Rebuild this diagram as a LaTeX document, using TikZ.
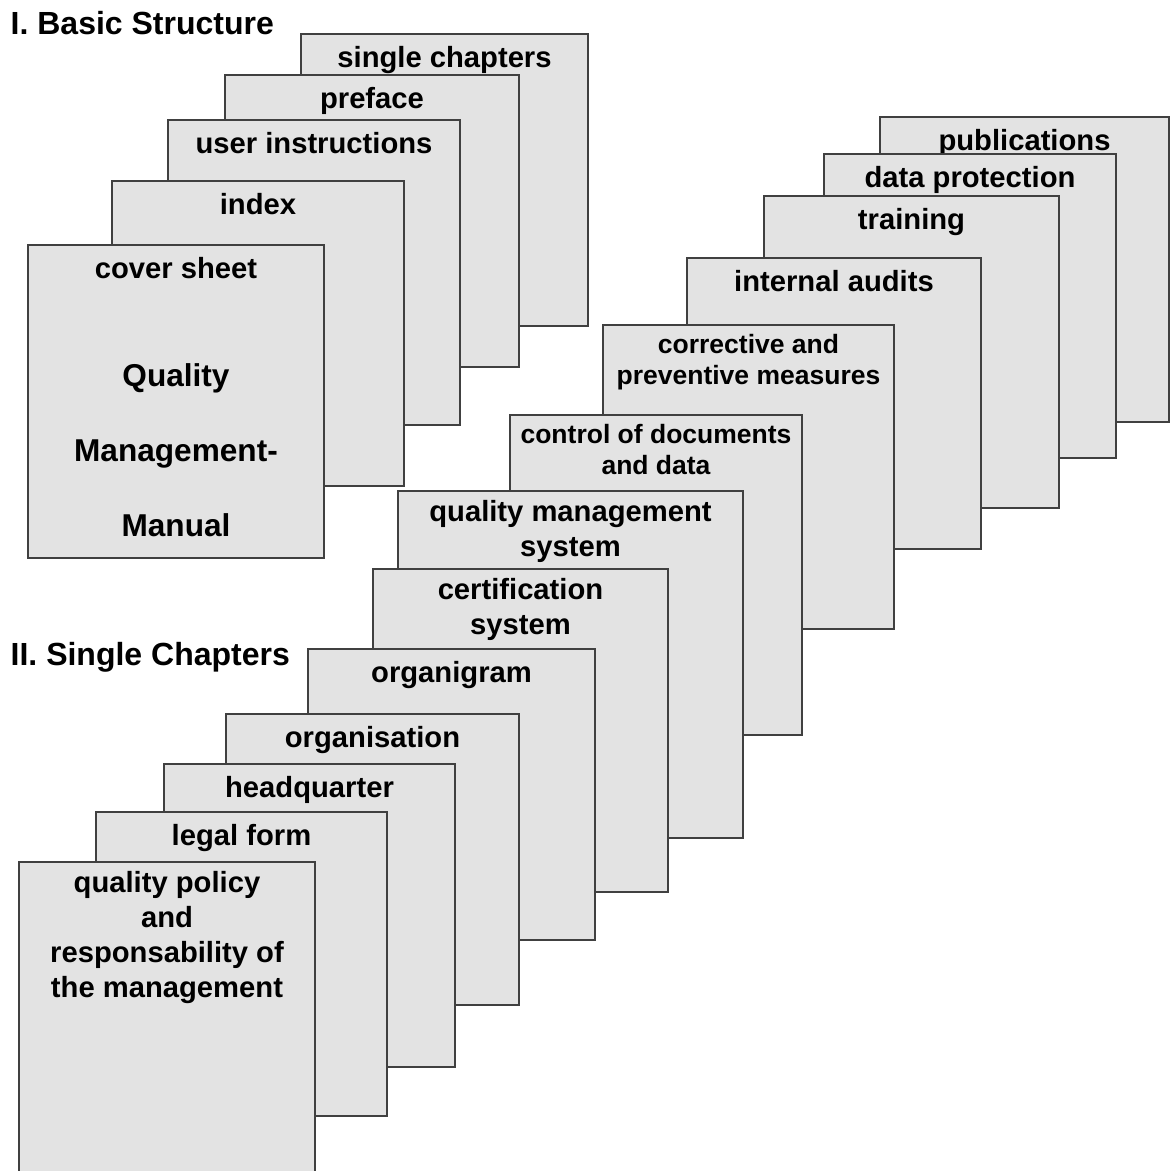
\documentclass[tikz,border=0pt]{standalone}
\usepackage{fontspec}
\setmainfont{Liberation Sans}
\definecolor{pagefill}{HTML}{E3E3E3}
\definecolor{pageline}{HTML}{404040}

\begin{document}
\begin{tikzpicture}[x=1pt, y=-1pt,
  page/.style={draw=pageline, fill=pagefill, line width=2pt},
  lbl/.style={anchor=north, align=center, inner xsep=0pt, inner ysep=9pt,
    font=\bfseries\fontsize{29.2}{35}\selectfont},
  lblsmall/.style={lbl, font=\bfseries\fontsize{26.5}{31.5}\selectfont},
  heading/.style={anchor=base west, inner sep=0pt, font=\bfseries\fontsize{32}{38}\selectfont}]
\useasboundingbox (0,0) rectangle (1171,1171);
\clip (0,0) rectangle (1171,1171);

% I. Basic Structure (hinterste Seite zuerst)
\node[heading] (basic) at (10.5,34) {I. Basic Structure};
\foreach \xl/\yt/\xr/\yb/\id/\fs/\txt in {
    301/34/588/326/singlech/lbl/{single chapters},
    225/75/519/367/preface/lbl/{preface},
    168/120/460/425/userinstr/lbl/{user instructions},
    112/181/404/486/index/lbl/{index},
    28/245/324/558/cover/lbl/{cover sheet}} {
  \draw[page] (\xl,\yt) rectangle (\xr,\yb);
  \node[\fs, execute at begin node=\strut] (\id) at ({(\xl+\xr)/2},\yt) {\txt};
}
% Titel auf dem Deckblatt
\node[align=center, font=\bfseries\fontsize{31.6}{75}\selectfont] (manual) at (176,450.6)
  {Quality\\Management-\\Manual};

% II. Single Chapters
\node[heading] (chapters) at (10.5,665.5) {II. Single Chapters};
\foreach \xl/\yt/\xr/\yb/\id/\fs/\txt in {
    880/117/1169/422/publ/lbl/{publications},
    824/154/1116/458/dataprot/lbl/{data protection},
    764/196/1059/508/training/lbl/{training},
    687/258/981/549/audits/lbl/{internal audits},
    603/325/894/629/corrective/lblsmall/{corrective and\\preventive measures},
    510/415/802/735/control/lblsmall/{control of documents\\and data},
    398/491/743/838/qmsystem/lbl/{quality management\\system},
    373/569/668/892/certif/lbl/{certification\\system},
    308/649/595/940/organigram/lbl/{organigram},
    226/714/519/1005/organisation/lbl/{organisation},
    164/764/455/1067/headq/lbl/{headquarter},
    96/812/387/1116/legal/lbl/{legal form},
    19/862/315/1200/policy/lbl/{quality policy\\and\\responsability of\\the management}} {
  \draw[page] (\xl,\yt) rectangle (\xr,\yb);
  \node[\fs, execute at begin node=\strut] (\id) at ({(\xl+\xr)/2},\yt) {\txt};
}
\end{tikzpicture}
\end{document}
